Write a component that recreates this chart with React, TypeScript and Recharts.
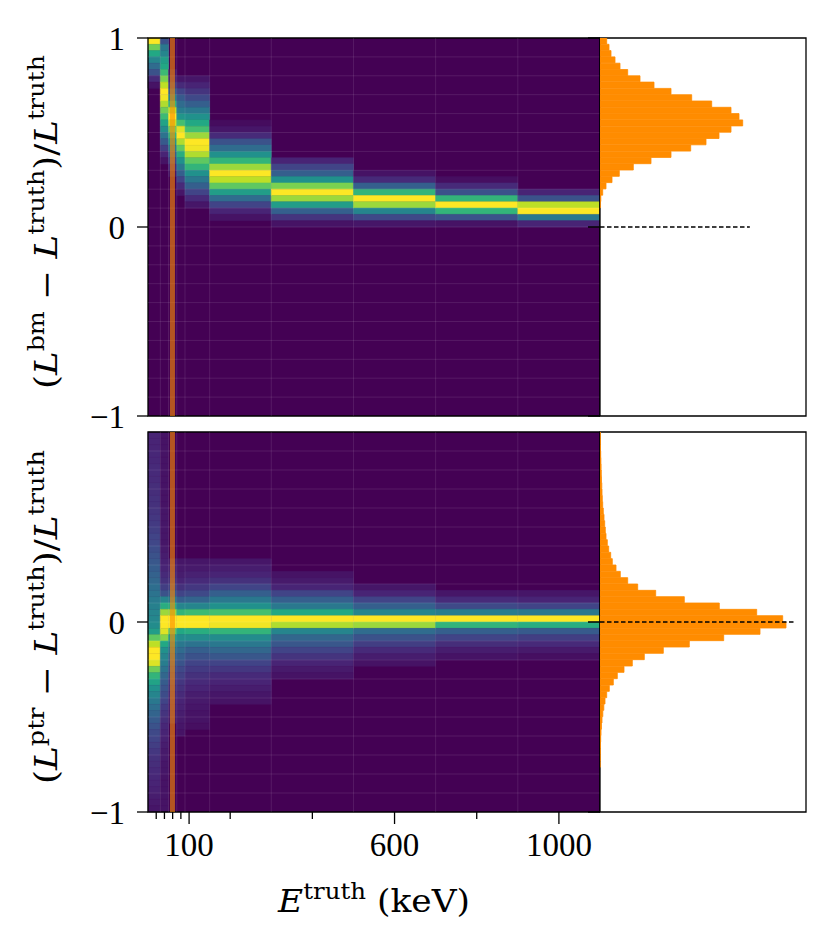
import React from 'react';
import {
  ComposedChart,
  XAxis,
  YAxis,
  Bar,
  ReferenceArea,
  ReferenceLine,
} from 'recharts';

const FONT = '"Liberation Serif", "DejaVu Serif", serif';
const LABEL_FONT = '"DejaVu Serif", "Liberation Serif", serif';

// ---------- data ----------
// energy bin edges of the 2D histograms (keV)
const X_EDGES = [0, 30, 50, 70, 90, 150, 300, 500, 700, 900, 1100];
// 60 relative-error bins between +1 (row 0) and -1 (row 59)
const Y_BIN_COUNT = 60;
const AM241_LINE = 59.54; // keV
const X_TICKS_MAJOR = [100, 600, 1000];
const X_TICKS_MINOR = [20, 40, 60, 80, 200, 400, 800];
const Y_TICKS_TOP = [-1, 0, 1];
const Y_TICKS_BOTTOM = [-1, 0];
const GRID_Y = [-0.9, -0.8, -0.7, -0.6, -0.5, -0.4, -0.3, -0.2, -0.1, 0, 0.1, 0.2, 0.3, 0.4, 0.5, 0.6, 0.7, 0.8, 0.9];

// top panel (L_bm): first row of each column + column-normalised intensities
const TOP_START = [0, 0, 5, 6, 6, 13, 19, 21, 22, 24];
const TOP_VALUES = [
  [1.0, 0.78, 0.6, 0.45, 0.35, 0.25, 0.12, 0.05],
  [0.25, 0.4, 0.45, 0.55, 0.6, 0.68, 0.8, 0.9, 1.0, 0.98, 0.88, 0.78, 0.68, 0.58, 0.48, 0.38, 0.28, 0.18, 0.1, 0.05],
  [0.06, 0.1, 0.18, 0.3, 0.45, 0.65, 0.9, 1.0, 0.92, 0.78, 0.65, 0.52, 0.4, 0.3, 0.2, 0.12, 0.06],
  [0.06, 0.12, 0.2, 0.28, 0.35, 0.42, 0.52, 0.7, 0.95, 1.0, 0.88, 0.75, 0.62, 0.5, 0.4, 0.3, 0.2, 0.12, 0.06],
  [0.06, 0.1, 0.15, 0.22, 0.3, 0.4, 0.5, 0.6, 0.7, 0.85, 1.0, 0.98, 0.88, 0.75, 0.65, 0.5, 0.4, 0.3, 0.2, 0.12, 0.06],
  [0.03, 0.06, 0.12, 0.25, 0.35, 0.5, 0.65, 0.85, 1.0, 0.9, 0.75, 0.55, 0.35, 0.2, 0.1, 0.05],
  [0.1, 0.2, 0.3, 0.5, 0.8, 1.0, 0.85, 0.55, 0.3, 0.15, 0.05],
  [0.05, 0.12, 0.3, 0.65, 1.0, 0.85, 0.45, 0.22, 0.06],
  [0.04, 0.12, 0.25, 0.65, 1.0, 0.65, 0.25, 0.05],
  [0.1, 0.25, 0.9, 1.0, 0.4, 0.1],
];

// bottom panel (L_ptr)
const BOTTOM_START = [0, 0, 20, 20, 20, 20, 22, 24, 25, 25];
const BOTTOM_VALUES = [
  [0.1, 0.1, 0.1, 0.11, 0.11, 0.12, 0.12, 0.12, 0.13, 0.13, 0.14, 0.14, 0.15, 0.16, 0.17, 0.18, 0.2, 0.21, 0.23, 0.25,
   0.27, 0.29, 0.31, 0.33, 0.36, 0.38, 0.41, 0.43, 0.45, 0.46, 0.48, 0.55, 0.75, 0.9, 1.0, 1.0, 0.95, 0.78, 0.65, 0.58,
   0.5, 0.45, 0.4, 0.36, 0.32, 0.28, 0.25, 0.22, 0.2, 0.18, 0.16, 0.14, 0.13, 0.12, 0.11, 0.1, 0.09, 0.08, 0.07, 0.06],
  [0.05, 0.05, 0.05, 0.05, 0.05, 0.05, 0.05, 0.05, 0.05, 0.05, 0.05, 0.05, 0.06, 0.06, 0.06, 0.06, 0.06, 0.06, 0.07, 0.08,
   0.09, 0.1, 0.12, 0.14, 0.18, 0.25, 0.45, 0.62, 0.85, 1.0, 1.0, 0.95, 0.82, 0.6, 0.5, 0.45, 0.42, 0.38, 0.33, 0.29,
   0.26, 0.23, 0.2, 0.17, 0.15, 0.13, 0.11, 0.1, 0.09, 0.08, 0.07, 0.07, 0.06, 0.06, 0.05, 0.05, 0.05, 0.05, 0.05, 0.05],
  [0.08, 0.1, 0.12, 0.15, 0.2, 0.28, 0.42, 0.62, 0.85, 1.0, 1.0, 0.75, 0.55, 0.45, 0.38, 0.32, 0.27, 0.23, 0.19, 0.16, 0.14, 0.12, 0.1, 0.09, 0.08, 0.07],
  [0.06, 0.07, 0.08, 0.1, 0.14, 0.2, 0.3, 0.45, 0.65, 1.0, 1.0, 0.6, 0.48, 0.4, 0.35, 0.3, 0.26, 0.22, 0.19, 0.16, 0.14, 0.12, 0.1, 0.09, 0.08, 0.07, 0.06, 0.05],
  [0.06, 0.07, 0.09, 0.12, 0.16, 0.22, 0.32, 0.45, 0.68, 1.0, 1.0, 0.62, 0.48, 0.38, 0.3, 0.25, 0.2, 0.17, 0.14, 0.12, 0.1, 0.08, 0.07, 0.06, 0.05, 0.05, 0.04],
  [0.06, 0.08, 0.1, 0.14, 0.2, 0.3, 0.4, 0.5, 0.7, 1.0, 0.98, 0.65, 0.48, 0.4, 0.33, 0.27, 0.2, 0.16, 0.12, 0.1, 0.08, 0.06, 0.05],
  [0.05, 0.07, 0.1, 0.2, 0.3, 0.4, 0.6, 1.0, 0.88, 0.45, 0.33, 0.27, 0.2, 0.15, 0.1, 0.07, 0.05],
  [0.06, 0.1, 0.2, 0.3, 0.45, 1.0, 0.85, 0.35, 0.25, 0.18, 0.12, 0.08, 0.05],
  [0.06, 0.12, 0.22, 0.42, 1.0, 0.65, 0.3, 0.2, 0.13, 0.08, 0.05],
  [0.06, 0.1, 0.2, 0.4, 1.0, 0.62, 0.28, 0.18, 0.12, 0.07, 0.04],
];

// projected histograms (right panels), one count per row, top to bottom
const TOP_HIST = [
  6.7, 9, 11, 15, 20, 27.7, 40, 54, 71, 91.7, 111.7, 131, 139, 142.7, 131, 119, 106, 90.7, 71, 51,
  33.3, 19.3, 12, 6, 2.7, 0.8, 0.3, 0, 0, 0, 0, 0, 0, 0, 0, 0, 0, 0, 0, 0,
  0, 0, 0, 0, 0, 0, 0, 0, 0, 0, 0, 0, 0, 0, 0, 0, 0, 0, 0, 0,
];
const BOTTOM_HIST = [
  0.3, 0.4, 0.5, 0.7, 0.9, 1.1, 1.3, 1.5, 1.8, 2, 2.3, 2.7, 3.3, 4, 4.7, 5.3, 6, 7.3, 8.7, 10.7,
  12.3, 16, 20.3, 27.7, 37.7, 55.7, 84.3, 119.3, 156.7, 182.7, 186, 160, 123.7, 89.3, 63.3, 44.3, 32.3, 24, 17.3, 13.3,
  9.3, 6.7, 5, 3.8, 2.8, 2, 1.5, 1, 0.7, 0.5, 0.3, 0.2, 0.1, 0, 0, 0, 0, 0, 0, 0,
];
const HIST_MAX_AXIS = 206;

// ---------- helpers ----------
const VIRIDIS = ['#440154', '#482475', '#414487', '#355f8d', '#2a788e', '#21918c', '#22a884', '#44bf70', '#7ad151', '#bddf26', '#fde725'];
function hexToRgb(h: string) {
  return [parseInt(h.slice(1, 3), 16), parseInt(h.slice(3, 5), 16), parseInt(h.slice(5, 7), 16)];
}
function viridis(t: number) {
  const v = Math.max(0, Math.min(1, t)) * 10;
  const i = Math.min(9, Math.floor(v));
  const f = v - i;
  const a = hexToRgb(VIRIDIS[i]);
  const b = hexToRgb(VIRIDIS[i + 1]);
  const c = a.map((x, k) => Math.round(x + (b[k] - x) * f));
  return `rgb(${c[0]},${c[1]},${c[2]})`;
}
const ROW_H = 2 / Y_BIN_COUNT;

function buildCells(starts: number[], values: number[][]) {
  const cells: { x1: number; x2: number; y1: number; y2: number; v: number }[] = [];
  values.forEach((col, c) => {
    col.forEach((v, k) => {
      const row = starts[c] + k;
      cells.push({ x1: X_EDGES[c], x2: X_EDGES[c + 1], y1: 1 - (row + 1) * ROW_H, y2: 1 - row * ROW_H, v });
    });
  });
  return cells;
}
function buildHist(counts: number[]) {
  return counts.map((count, i) => ({ y: 1 - (i + 0.5) * ROW_H, count }));
}

const fmtY = (v: number) => (v < 0 ? `\u2212${-v}` : `${v}`);

const FS = 33;
const LFS = 31;
const SUP = 22;

function YLabel(props: any) {
  const { viewBox, sup } = props;
  const cx = 46;
  const cy = viewBox.y + viewBox.height / 2 - 5;
  return (
    <text
      x={cx}
      y={cy + 11}
      transform={`rotate(-90, ${cx}, ${cy})`}
      textAnchor="middle"
      fontFamily={LABEL_FONT}
      fontSize={LFS}
      fill="#000"
      textLength={334}
      lengthAdjust="spacingAndGlyphs"
    >
      <tspan>(</tspan>
      <tspan fontStyle="italic">L</tspan>
      <tspan fontSize={SUP} dy={-13}>{sup}</tspan>
      <tspan dy={13}>{' \u2212 '}</tspan>
      <tspan fontStyle="italic">L</tspan>
      <tspan fontSize={SUP} dy={-13}>truth</tspan>
      <tspan dy={13}>)/</tspan>
      <tspan fontStyle="italic">L</tspan>
      <tspan fontSize={SUP} dy={-13}>truth</tspan>
    </text>
  );
}

function XLabel(props: any) {
  const { viewBox } = props;
  const cx = viewBox.x + viewBox.width / 2;
  const y = viewBox.y + 100;
  return (
    <text
      x={cx}
      y={y}
      textAnchor="middle"
      fontFamily={LABEL_FONT}
      fontSize={LFS}
      fill="#000"
      textLength={192}
      lengthAdjust="spacingAndGlyphs"
    >
      <tspan fontStyle="italic">E</tspan>
      <tspan fontSize={SUP} dy={-13}>truth</tspan>
      <tspan dy={13}>{' (keV)'}</tspan>
    </text>
  );
}

function XTick(props: any) {
  const { x, y, payload } = props;
  const major = X_TICKS_MAJOR.includes(payload.value);
  return (
    <g>
      <line x1={x} x2={x} y1={y} y2={y + (major ? 12 : 7)} stroke="#000" strokeWidth={1.3} />
      {major && (
        <text x={x} y={y + 44} textAnchor="middle" fontFamily={FONT} fontSize={FS} fill="#000">
          {payload.value}
        </text>
      )}
    </g>
  );
}

function SideTick(props: any) {
  const { x, y } = props;
  return <line x1={x - 12} x2={x} y1={y} y2={y} stroke="#000" strokeWidth={1.5} />;
}

function HeatPanel({ cells, sup, bottom }: { cells: any[]; sup: string; bottom: boolean }) {
  const height = bottom ? 518 : 448;
  const margin = bottom ? { top: 2, right: 0, bottom: 76, left: 0 } : { top: 38, right: 0, bottom: 32, left: 0 };
  return (
    <ComposedChart width={600} height={height} margin={margin} data={cells}>
      <XAxis
        type="number"
        dataKey="x1"
        domain={[0, 1100]}
        allowDataOverflow
        hide={!bottom}
        ticks={[...X_TICKS_MINOR, ...X_TICKS_MAJOR].sort((a, b) => a - b)}
        interval={0}
        axisLine={false}
        tickLine={false}
        tickSize={0}
        tickMargin={0}
        height={60}
        tick={<XTick />}
        label={bottom ? <XLabel /> : undefined}
      />
      <YAxis
        type="number"
        domain={[-1, 1]}
        allowDataOverflow
        ticks={bottom ? Y_TICKS_BOTTOM : Y_TICKS_TOP}
        interval={0}
        width={148}
        tickSize={11}
        tickMargin={12}
        axisLine={false}
        tickLine={{ stroke: '#000', strokeWidth: 1.3 }}
        tick={{ fontSize: FS, fill: '#000', fontFamily: FONT }}
        tickFormatter={fmtY}
        label={<YLabel sup={sup} />}
      />
      <ReferenceArea x1={0} x2={1100} y1={-1} y2={1} fill={viridis(0)} fillOpacity={1} stroke="none" ifOverflow="visible" />
      {cells.map((c, i) => (
        <ReferenceArea
          key={`c${i}`}
          x1={c.x1}
          x2={c.x2}
          y1={c.y1}
          y2={c.y2}
          fill={viridis(c.v)}
          fillOpacity={1}
          stroke={viridis(c.v)}
          strokeWidth={0.5}
          ifOverflow="visible"
        />
      ))}
      {GRID_Y.map((g) => (
        <ReferenceLine key={`gy${g}`} y={g} stroke="#ffffff" strokeOpacity={0.1} strokeWidth={1} />
      ))}
      {X_EDGES.slice(1, -1).map((g) => (
        <ReferenceLine key={`gx${g}`} x={g} stroke="#ffffff" strokeOpacity={0.1} strokeWidth={1} />
      ))}
      <ReferenceLine x={AM241_LINE} stroke="#ff8c00" strokeOpacity={0.6} strokeWidth={5} />
      <ReferenceArea x1={0} x2={1100} y1={-1} y2={1} fill="none" stroke="#000" strokeWidth={1.3} ifOverflow="visible" />
    </ComposedChart>
  );
}

function HistPanel({ counts, bottom }: { counts: number[]; bottom: boolean }) {
  const data = buildHist(counts);
  const height = bottom ? 518 : 430;
  const margin = bottom ? { top: 2, right: 25, bottom: 136, left: 0 } : { top: 38, right: 25, bottom: 14, left: 0 };
  const dashEnd = Math.max(...counts) * 1.05;
  return (
    <ComposedChart layout="vertical" width={251} height={height} margin={margin} data={data} barCategoryGap={0} barGap={0}>
      <XAxis type="number" domain={[0, HIST_MAX_AXIS]} allowDataOverflow hide />
      <YAxis
        type="number"
        dataKey="y"
        domain={[-1, 1]}
        reversed
        allowDataOverflow
        ticks={bottom ? Y_TICKS_BOTTOM : Y_TICKS_TOP}
        interval={0}
        width={20}
        tickSize={0}
        tickMargin={0}
        tick={<SideTick />}
        axisLine={false}
        tickLine={false}
      />
      <Bar dataKey="count" fill="#ff8c00" stroke="#ff8c00" strokeWidth={0.8} isAnimationActive={false} />
      <ReferenceLine
        segment={[{ x: 0, y: 0 }, { x: dashEnd, y: 0 }]}
        stroke="#000"
        strokeWidth={1.3}
        strokeDasharray="4.5 2.5"
      />
      <ReferenceArea x1={0} x2={HIST_MAX_AXIS} y1={-1} y2={1} fill="none" stroke="#000" strokeWidth={1.3} ifOverflow="visible" />
    </ComposedChart>
  );
}

export default function App() {
  const topCells = buildCells(TOP_START, TOP_VALUES);
  const bottomCells = buildCells(BOTTOM_START, BOTTOM_VALUES);
  return (
    <div style={{ position: 'absolute', left: 0, top: 0, width: 831, height: 948, background: '#fff', fontFamily: FONT }}>
      <div style={{ position: 'absolute', left: 0, top: 0 }}>
        <HeatPanel cells={topCells} sup="bm" bottom={false} />
      </div>
      <div style={{ position: 'absolute', left: 0, top: 430 }}>
        <HeatPanel cells={bottomCells} sup="ptr" bottom={true} />
      </div>
      <div style={{ position: 'absolute', left: 580, top: 0 }}>
        <HistPanel counts={TOP_HIST} bottom={false} />
      </div>
      <div style={{ position: 'absolute', left: 580, top: 430 }}>
        <HistPanel counts={BOTTOM_HIST} bottom={true} />
      </div>
    </div>
  );
}
